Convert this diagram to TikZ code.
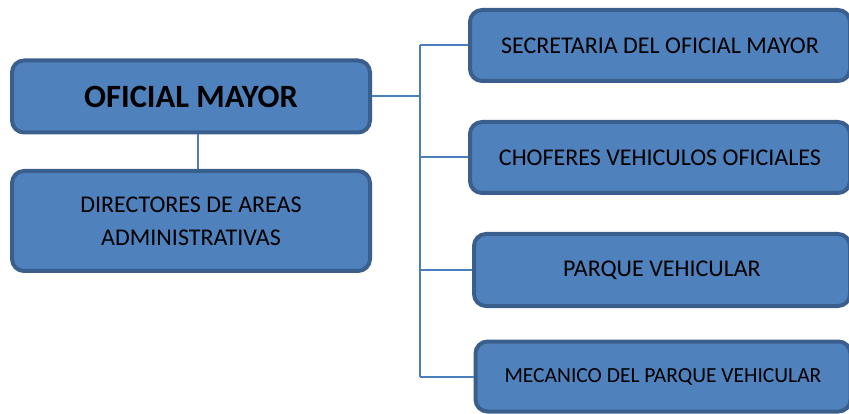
\documentclass[tikz,border=0pt]{standalone}
\usepackage{fontspec}
\setmainfont{Carlito}
\usetikzlibrary{positioning}

\definecolor{boxfill}{HTML}{4F81BD}
\definecolor{boxline}{HTML}{3A5F8C}
\definecolor{linkcol}{HTML}{4A7EBB}

\begin{document}
\begin{tikzpicture}[
        x=1pt, y=-1pt,
        unit/.style={rectangle, draw=boxline, fill=boxfill, line width=4pt, rounded corners=12pt, text centered, font=\fontsize{24}{33}\selectfont, inner sep=0pt},
        chief/.style={unit, font=\fontsize{32.5}{36}\selectfont\bfseries},
        link/.style={draw=linkcol, line width=2pt}
    ]
        \useasboundingbox (0,0) rectangle (849,414);

        \node[chief, minimum width=358pt, minimum height=72pt] (oficial) at (191,96.5) {OFICIAL MAYOR};
        \node[unit, minimum width=358pt, minimum height=100pt, align=center] (directores) at (191,221) {DIRECTORES DE AREAS\\ADMINISTRATIVAS};

        \node[unit, minimum width=380pt, minimum height=71pt] (secretaria) at (660,45.5) {SECRETARIA DEL OFICIAL MAYOR};
        \node[unit, minimum width=380pt, minimum height=71pt] (choferes) at (660,157.5) {CHOFERES VEHICULOS OFICIALES};
        \node[unit, minimum width=376pt, minimum height=72pt] (parque) at (662,270) {PARQUE VEHICULAR};
        \node[unit, minimum width=375pt, minimum height=70pt, font=\fontsize{21.5}{26}\selectfont] (mecanico) at (663,376.5) {MECANICO DEL PARQUE VEHICULAR};

        \coordinate (hub) at (420,96.5);

        \draw[link] ([xshift=7pt]oficial.south) -- ([xshift=7pt]directores.north);
        \draw[link] (oficial.east) -- (hub);
        \draw[link] (hub |- secretaria.west) -- (hub |- mecanico.west);
        \foreach \n in {secretaria, choferes, parque, mecanico}
            \draw[link] (hub |- \n.west) -- (\n.west);
    \end{tikzpicture}
\end{document}
